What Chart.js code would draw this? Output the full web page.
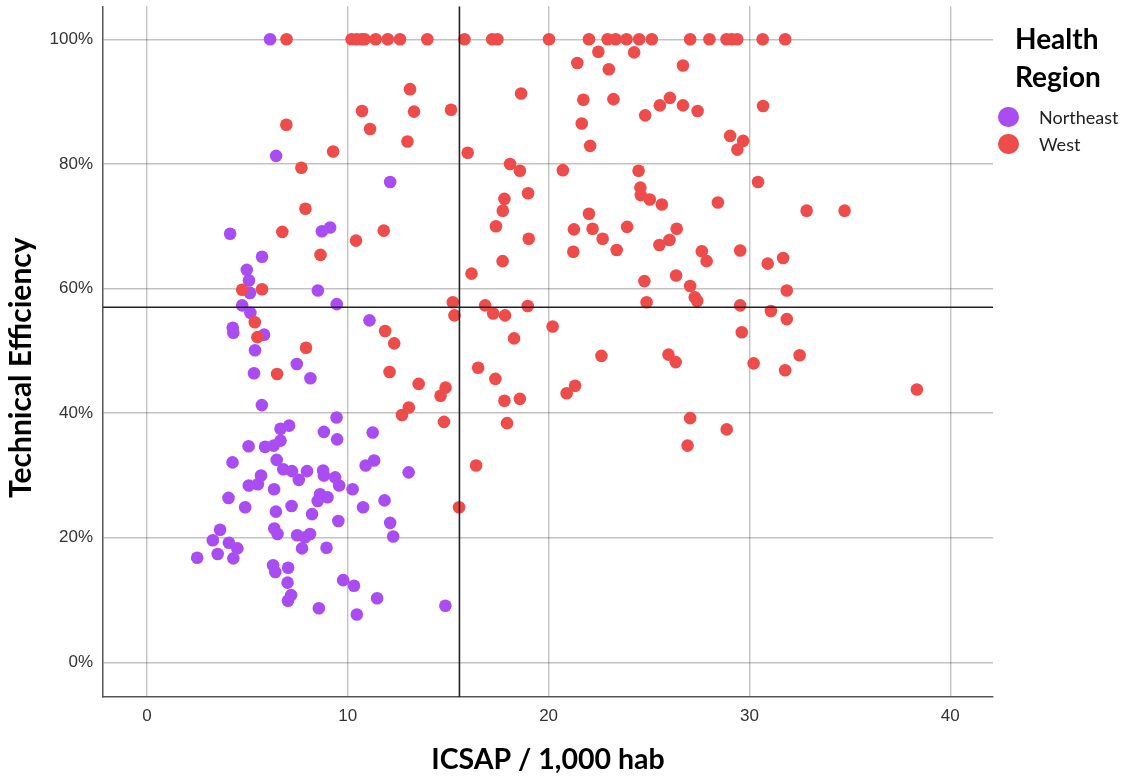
<!DOCTYPE html>
<html>
<head>
<meta charset="utf-8">
<script src="https://cdn.jsdelivr.net/npm/chart.js@4.4.1/dist/chart.umd.min.js"></script>
<style>
html,body{margin:0;padding:0;background:#fff;}
#wrap{position:relative;width:1127px;height:779px;overflow:hidden;}
#c{position:absolute;left:0;top:0;}
.lg-title{position:absolute;left:1015px;top:19px;font-family:Lato,sans-serif;font-weight:700;font-size:28px;line-height:38px;color:#000;white-space:nowrap;}
.lg-item{position:absolute;left:998px;height:26px;font-family:Lato,sans-serif;font-size:18px;line-height:26px;color:#222;white-space:nowrap;}
.lg-dot{position:absolute;left:0;top:2.7px;width:20.6px;height:20.6px;border-radius:50%;}
.lg-text{position:absolute;left:41px;top:0;}
</style>
</head>
<body>
<div id="wrap">
<canvas id="c" width="1127" height="779"></canvas>
<div class="lg-title">Health<br>Region</div>
<div class="lg-item" style="top:104px"><span class="lg-dot" style="background:#A94DF2"></span><span class="lg-text">Northeast</span></div>
<div class="lg-item" style="top:131px"><span class="lg-dot" style="background:#EE4B4B"></span><span class="lg-text">West</span></div>
</div>
<script>
// ---- data ----
const seriesNames = ['Northeast', 'West'];
const northeastX = [6.13,6.43,4.14,8.71,9.12,5.73,4.97,5.08,5.13,8.51,4.74,5.15,4.27,4.30,5.83,5.38,7.46,5.33,8.14,5.72,
  12.11,9.45,11.08,9.44,11.24,9.47,10.89,11.31,13.03,9.37,9.57,10.24,10.76,11.83,9.53,12.11,12.26,9.77,10.31,11.46,
  10.45,14.86,6.65,7.08,8.81,5.06,5.88,6.31,6.65,4.26,6.46,6.79,7.22,7.56,7.97,8.77,8.81,5.07,5.52,5.68,
  6.33,4.06,4.89,6.42,7.20,8.22,8.62,8.99,8.50,3.64,3.28,4.08,4.50,2.50,3.52,4.30,6.34,6.50,7.48,7.87,
  8.12,7.72,8.94,6.28,6.39,7.03,7.00,7.18,7.02,8.56];
const northeastY = [100,81.3,68.8,69.2,69.8,65.1,63.0,61.3,59.3,59.7,57.3,56.1,53.7,52.9,52.6,50.1,47.9,46.4,45.6,41.3,
  77.1,57.5,54.9,39.3,36.9,35.8,31.6,32.4,30.5,29.7,28.4,27.8,24.9,26.0,22.7,22.4,20.2,13.2,12.3,10.3,
  7.7,9.1,37.5,38.0,37.0,34.7,34.6,34.8,35.6,32.1,32.5,31.0,30.7,29.3,30.7,30.8,30.0,28.4,28.6,30.0,
  27.8,26.4,24.9,24.2,25.1,23.8,27.0,26.5,25.9,21.3,19.6,19.2,18.3,16.8,17.4,16.7,21.5,20.6,20.4,20.1,
  20.6,18.3,18.4,15.6,14.5,15.2,12.8,10.8,9.9,8.7];
const westX = [6.95,10.19,10.44,10.69,10.84,11.39,11.99,12.60,13.96,15.81,17.19,17.45,20.02,22.01,22.94,23.34,23.88,24.51,25.14,27.05,
  28.01,28.86,29.12,29.39,30.66,31.78,
  6.94,7.69,7.89,6.74,8.64,4.74,5.73,5.37,5.50,7.92,6.48,9.27,13.10,10.71,13.30,15.14,11.11,12.97,15.97,11.79,
  10.41,16.16,15.23,15.31,11.86,12.31,12.08,13.53,14.87,14.62,13.04,12.70,14.79,16.49,16.39,15.54,21.43,22.48,23.00,18.63,
  21.73,23.23,21.65,22.07,18.08,18.57,20.71,17.80,17.72,18.98,17.38,19.01,17.71,22.01,21.26,22.19,22.69,23.39,23.91,21.23,
  16.84,17.24,17.83,18.96,20.20,24.26,26.69,24.81,25.54,26.04,26.69,27.42,30.68,29.04,29.69,29.40,24.48,24.57,24.59,25.04,
  25.64,28.43,30.43,32.85,34.74,26.38,25.52,26.02,27.63,27.87,29.54,30.91,31.68,31.86,24.77,26.35,27.05,27.28,27.40,24.88,
  29.54,31.07,31.86,29.62,32.50,31.78,30.21,26.33,25.97,22.63,18.28,17.35,17.80,18.57,17.93,20.90,21.32,27.05,28.87,26.92,
  38.34];
const westY = [100,100,100,100,100,100,100,100,100,100,100,100,100,100,100,100,100,100,100,100,
  100,100,100,100,100,100,
  86.3,79.4,72.8,69.1,65.4,59.8,59.9,54.6,52.2,50.5,46.3,82.0,92.0,88.5,88.4,88.7,85.6,83.6,81.8,69.3,
  67.7,62.4,57.8,55.7,53.2,51.2,46.6,44.7,44.1,42.8,40.9,39.7,38.6,47.3,31.6,24.9,96.2,98.0,95.2,91.3,
  90.3,90.4,86.5,82.9,80.0,78.9,79.0,74.4,72.5,75.3,70.0,68.0,64.4,72.0,69.5,69.6,68.0,66.2,69.9,65.9,
  57.3,56.0,55.7,57.2,53.9,97.9,95.8,87.8,89.4,90.6,89.4,88.5,89.3,84.5,83.7,82.3,78.9,76.2,75.0,74.3,
  73.5,73.8,77.1,72.5,72.5,69.6,67.0,67.8,66.0,64.4,66.1,64.0,64.9,59.7,61.2,62.1,60.4,58.6,58.0,57.8,
  57.3,56.4,55.1,53.0,49.3,46.9,48.0,48.2,49.4,49.2,52.0,45.5,42.0,42.3,38.4,43.2,44.4,39.2,37.4,34.8,
  43.8];
const xTicks = [0, 10, 20, 30, 40];
const yTicks = [0, 20, 40, 60, 80, 100];
const refX = 15.56;   // vertical reference line (mean ICSAP)
const refY = 57.0;    // horizontal reference line (mean efficiency)
const xRange = [-2.19, 42.13];
const yRange = [-5.55, 105.3];
const xTitle = 'ICSAP / 1,000 hab';
const yTitle = 'Technical Efficiency';

// ---- chart ----
const toPts = (xs, ys) => xs.map((v, i) => ({x: v, y: ys[i]}));
const colors = ['#A94DF2', '#EE4B4B'];

const yTitlePlugin = {
  id: 'yTitlePlugin',
  afterDraw(chart) {
    const a = chart.chartArea;
    const ctx = chart.ctx;
    ctx.save();
    ctx.translate(21, (a.top + a.bottom) / 2 + 16);
    ctx.rotate(-Math.PI / 2);
    ctx.font = 'bold 30px Lato';
    ctx.fillStyle = '#000';
    ctx.textAlign = 'center';
    ctx.textBaseline = 'middle';
    ctx.fillText(yTitle, 0, 0);
    ctx.restore();
  }
};

const gridOpts = {color: 'rgba(0,0,0,0.24)', lineWidth: 1.4, drawTicks: false};
const tickFont = {family: 'Liberation Sans', size: 17};

new Chart(document.getElementById('c'), {
  type: 'scatter',
  data: {
    datasets: [
      {label: 'refX', type: 'line', data: [{x: refX, y: yRange[0]}, {x: refX, y: yRange[1]}],
       borderColor: '#222', borderWidth: 1.6, pointRadius: 0, order: 0},
      {label: 'refY', type: 'line', data: [{x: xRange[0], y: refY}, {x: xRange[1], y: refY}],
       borderColor: '#222', borderWidth: 1.6, pointRadius: 0, order: 0},
      {label: seriesNames[0], data: toPts(northeastX, northeastY), backgroundColor: colors[0],
       pointRadius: 6.3, pointBorderWidth: 0, order: 2},
      {label: seriesNames[1], data: toPts(westX, westY), backgroundColor: colors[1],
       pointRadius: 6.3, pointBorderWidth: 0, order: 1}
    ]
  },
  options: {
    responsive: false,
    animation: false,
    layout: {padding: {top: 4, right: 134, left: 0, bottom: 0}},
    plugins: {legend: {display: false}, tooltip: {enabled: false}},
    scales: {
      x: {
        type: 'linear', min: xRange[0], max: xRange[1],
        afterBuildTicks: s => { s.ticks = xTicks.map(v => ({value: v})); },
        afterFit: s => { s.height = 82; s.paddingLeft = 0; s.paddingRight = 0; },
        ticks: {font: tickFont, color: '#333', padding: 9},
        grid: gridOpts,
        border: {display: true, color: '#555', width: 1.5},
        title: {display: true, text: xTitle, color: '#000',
                font: {family: 'Lato', weight: 'bold', size: 28.5}, padding: {top: 0, bottom: 2}}
      },
      y: {
        type: 'linear', min: yRange[0], max: yRange[1],
        afterBuildTicks: s => { s.ticks = yTicks.map(v => ({value: v})); },
        afterFit: s => { s.width = 103; s.paddingTop = 0; s.paddingBottom = 0; },
        ticks: {font: tickFont, color: '#333', padding: 10, callback: v => v + '%'},
        grid: gridOpts,
        border: {display: true, color: '#555', width: 1.5},
        title: {display: false, text: yTitle}
      }
    }
  },
  plugins: [yTitlePlugin]
});
</script>
</body>
</html>
